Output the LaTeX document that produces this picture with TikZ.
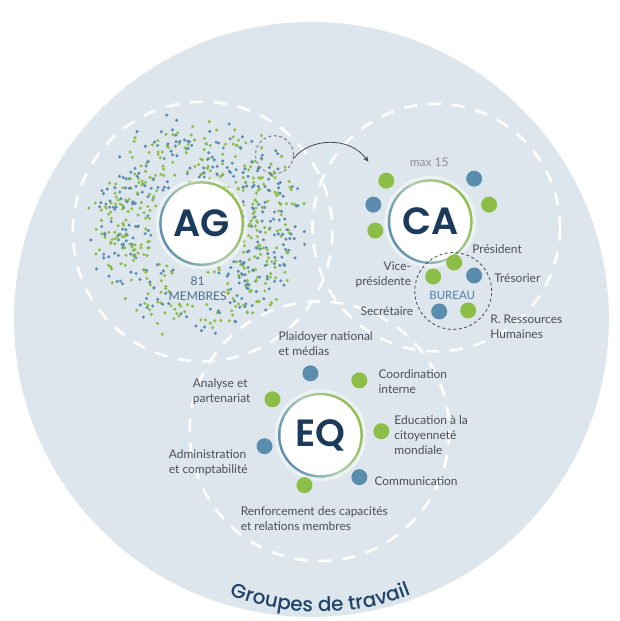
\documentclass[tikz,border=0pt]{standalone}
\usepackage{fontspec}
\setmainfont{Lato}
\newfontfamily\hubfont{Poppins}[UprightFont=* SemiBold]
\newfontfamily\titlefont{Poppins}[UprightFont=* Medium]
\usetikzlibrary{arrows.meta,decorations.text}

\definecolor{bgC}{HTML}{DDE6EC}
\definecolor{greenC}{HTML}{8CBD46}
\definecolor{blueC}{HTML}{5A8CAE}
\definecolor{navyC}{HTML}{1C3A5B}
\definecolor{textC}{HTML}{4A4F57}
\definecolor{mutedC}{HTML}{8A9096}
\definecolor{memberC}{HTML}{4B6D8C}
\definecolor{bureauC}{HTML}{4F7EA6}
\definecolor{lineC}{HTML}{45494E}
\definecolor{titleC}{HTML}{1F4467}

\begin{document}
\begin{tikzpicture}[x=1pt,y=-1pt,
  zone/.style={draw=white, line width=2.6pt, dash pattern=on 13pt off 11pt},
  hub/.style={circle, fill=white, minimum size=80pt, inner sep=0pt,
    text=navyC, font=\hubfont\fontsize{38}{38}\selectfont},
  sat/.style={circle, minimum size=16pt, inner sep=0pt},
  satG/.style={sat, fill=greenC},
  satB/.style={sat, fill=blueC},
  lab/.style={inner sep=0pt, text=textC, font=\fontsize{12}{15}\selectfont},
  labL/.style={lab, anchor=west, align=left},
  labR/.style={lab, anchor=east, align=right},
  ringdash/.style={circle, draw=lineC, line width=0.8pt, dash pattern=on 3pt off 2.5pt, inner sep=0pt},
]
% page and outer disc
\fill[white] (0,0) rectangle (621,621);
\fill[bgC] (312,320) circle (298);

% three overlapping zones
\draw[zone] (203,232) circle (130);
\draw[zone] (437,228) circle (124);
\draw[zone] (320,432) circle (130);

% member cloud around AG, leaving the count label clear
\pgfmathsetseed{4242}
\foreach \i in {1,...,720}{
  \pgfmathsetmacro{\ang}{360*rnd}
  \pgfmathsetmacro{\rad}{45+52*rnd+26*rnd*rnd}
  \pgfmathtruncatemacro{\isg}{rnd<0.55 ? 1 : 0}
  \pgfmathsetmacro{\px}{198+\rad*cos(\ang)}
  \pgfmathsetmacro{\py}{227+\rad*sin(\ang)}
  \pgfmathtruncatemacro{\hide}{and(and(\px>170,\px<227),and(\py>274,\py<304))}
  \ifnum\hide=0
    \ifnum\isg=1 \def\dc{greenC}\else\def\dc{blueC}\fi
    \fill[\dc] (\px,\py) circle (1.7);
  \fi
}

% hub centres
\coordinate (agc) at (202,224);
\coordinate (cac) at (431,222);
\coordinate (eqc) at (321,436);

% soft halo and gradient rings
\foreach \c in {agc,cac,eqc}{
  \fill[white, opacity=0.45] (\c) circle (46);
  \shade[left color=blueC, right color=greenC, middle color=blueC!50!greenC!55!white, shading angle=115]
    (\c) circle (42.5);
}

\node[hub] (ag) at (agc) {AG};
\node[hub] (ca) at (cac) {CA};
\node[hub] (eq) at (eqc) {EQ};

% AG labels
\node[inner sep=0pt, text=memberC, font=\fontsize{12}{15}\selectfont, align=center] (agmem) at (198,289.5) {81\\MEMBRES};

% selection and arrow towards CA
\node[ringdash, minimum size=38pt, draw=lineC!80] (sel) at (275,155) {};
\coordinate (arrowend) at (369,162);
\draw[lineC, line width=0.8pt, -{Stealth[length=5.5pt,width=5pt]}]
  (sel.-12) .. controls (310,138) and (350,136) .. (arrowend);

% CA members
\node[inner sep=0pt, text=mutedC, font=\fontsize{12}{15}\selectfont] (camax) at (430,163) {max 15};
\node[satG] (ca1) at (387,181) {};
\node[satB] (ca2) at (475,179) {};
\node[satB] (ca3) at (374,205) {};
\node[satG] (ca4) at (490,205) {};
\node[satG] (ca5) at (376,231) {};

% bureau
\node[ringdash, minimum size=77pt] (bur) at (454,291.5) {};
\node[inner sep=0pt, text=bureauC, font=\fontsize{11.5}{14}\selectfont] (burlab) at (453,296) {BUREAU};
\node[satG] (pres) at (455,263) {};
\node[satG] (vice) at (434,277) {};
\node[satB] (treso) at (475,276) {};
\node[satB] (secr) at (440,312) {};
\node[satG] (rrh) at (469,311) {};

\node[labL] (lpres) at (473,250) {Président};
\node[labR] (lvice) at (412,275) {Vice-\\présidente};
\node[labL] (ltreso) at (495,279) {Trésorier};
\node[labR] (lsecr) at (414,312) {Secrétaire};
\node[labL] (lrrh) at (491,327) {R. Ressources\\Humaines};

% EQ groups
\node[satB] (eq1) at (311,374) {};
\node[satG] (eq2) at (360,381) {};
\node[satG] (eq3) at (273,400) {};
\node[satG] (eq4) at (382,432) {};
\node[satB] (eq5) at (265,447) {};
\node[satB] (eq6) at (360,478) {};
\node[satG] (eq7) at (305,486) {};

\node[labL] (leq1) at (279,344.5) {Plaidoyer national\\et médias};
\node[labL] (leq2) at (379,382) {Coordination\\interne};
\node[labL] (leq3) at (193,392) {Analyse et\\partenariat};
\node[labL] (leq4) at (395,436) {Education à la\\citoyenneté\\mondiale};
\node[labL] (leq5) at (169,463) {Administration\\et comptabilité};
\node[labL] (leq6) at (375,482) {Communication};
\node[labL] (leq7) at (241,519.5) {Renforcement des capacités\\et relations membres};

% curved title along the bottom of the disc
\path[postaction={decorate}, decoration={text along path, text align=center,
    text={|\titlefont\fontsize{20}{20}\selectfont\color{titleC}|Groupes de travail}}]
  ([shift={(321,362)}]117:251) arc[start angle=117, end angle=63, radius=251];
\end{tikzpicture}
\end{document}
